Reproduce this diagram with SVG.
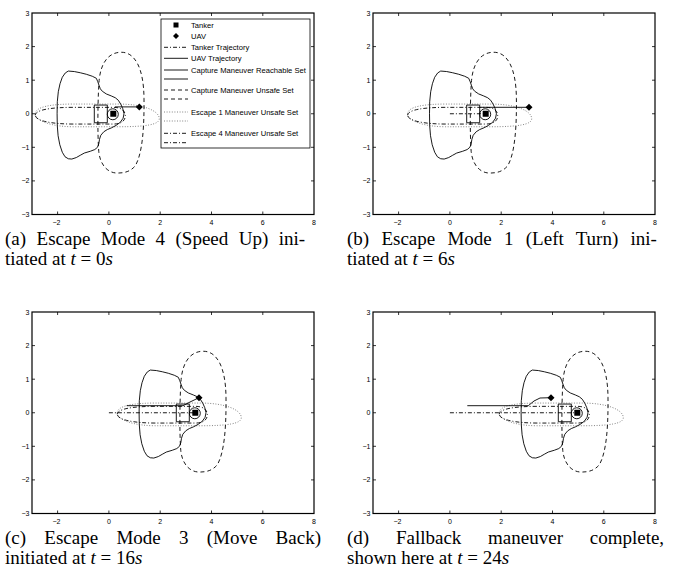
<svg xmlns="http://www.w3.org/2000/svg" width="678" height="577" viewBox="0 0 678 577">
<style>
.box{fill:none;stroke:#000;stroke-width:1.2}
.tick{fill:none;stroke:#000;stroke-width:0.8}
.tl{font-family:"Liberation Sans",Arial,sans-serif;font-size:7px;fill:#000}
.tly{text-anchor:end}
.tlx{text-anchor:middle}
.solid{fill:none;stroke:#000;stroke-width:0.9;stroke-linejoin:round}
.dash{fill:none;stroke:#000;stroke-width:0.9;stroke-dasharray:4 3}
.dot{fill:none;stroke:#777;stroke-width:0.9;stroke-dasharray:1 1.6}
.dd{fill:none;stroke:#000;stroke-width:0.9;stroke-dasharray:4 2 1 2}
.lg{font-family:"Liberation Sans",Arial,sans-serif;font-size:7.6px;fill:#000}
.cap{font-family:"Liberation Serif","Times New Roman",serif;font-size:19px;fill:#000}
.mk{fill:#000}
</style>
<defs>
<g id="axes">
<rect class="box" x="32" y="13" width="282" height="201.5"/>
<path class="tick" d="M57.6,214.5v-3M108.9,214.5v-3M160.2,214.5v-3M211.5,214.5v-3M262.8,214.5v-3M57.6,13v3M108.9,13v3M160.2,13v3M211.5,13v3M262.8,13v3M32,46.6h3M32,80.2h3M32,113.75h3M32,147.3h3M32,180.9h3M314,46.6h-3M314,80.2h-3M314,113.75h-3M314,147.3h-3M314,180.9h-3"/>
<g class="tl tly">
<text x="29.5" y="15.5">3</text>
<text x="29.5" y="49.1">2</text>
<text x="29.5" y="82.7">1</text>
<text x="29.5" y="116.2">0</text>
<text x="29.5" y="149.8">−1</text>
<text x="29.5" y="183.4">−2</text>
<text x="29.5" y="217">−3</text>
</g>
<g class="tl tlx">
<text x="56.5" y="225">−2</text>
<text x="108.9" y="225">0</text>
<text x="160.2" y="225">2</text>
<text x="211.5" y="225">4</text>
<text x="262.8" y="225">6</text>
<text x="314" y="225">8</text>
</g>
</g>
<path id="reach" class="solid" d="M-45,-42.7L-39,-42.2L-33,-41L-27,-39.5L-21,-37.5L-17,-35.5L-15.5,-32L-14.3,-28.5L-13,-25L-11,-22.5L-7,-19.8L-2,-17.8L2,-16L5,-13.5L7.5,-9.5L9.5,-5L10.7,0L9.8,4.5L7,8.5L3,11.5L-1.6,14L-6,15.8L-9.5,18L-12.5,21.5L-13.8,25.5L-14.5,30L-15.8,33.5L-18.5,35.8L-23,37.5L-29,39.3L-33,41.5L-37,43.8L-41.5,45.3L-45,45L-48.3,43L-51,38.5L-53.5,31L-55.2,22L-56,12L-56.2,0L-56,-12L-55,-22L-53.3,-30L-51,-36.5L-48,-40.8Z"/>
<path id="capU" class="dash" d="M8,-61.5C22,-61.5 30.5,-45 30.7,-15C31,15 29,40 22,52C17,58 11,59.3 4,59.3C-5,59.3 -13,52 -14.5,38C-16,20 -15.5,-20 -14,-35C-12,-52 -4,-61.5 8,-61.5Z"/>
<path id="esc1" class="dot" d="M-78,0C-78,-7 -62,-9.7 -40,-9.7L5,-9.7C30,-9.7 46,-3 46,5C46,11 32,13 5,13L-40,13C-62,13 -78,7 -78,0Z"/>
<path id="esc4" class="dd" d="M-78,1.5C-78,-4 -62,-6.4 -40,-6.4L0,-6.4C8,-6.4 12,-3 12,2C12,7 8,10.3 0,10.3L-40,10.3C-62,10.3 -78,7 -78,1.5Z"/>
<g id="core">
<rect class="solid" x="-19" y="-8.7" width="13" height="17.7"/>
<circle class="solid" cx="-0.5" cy="0.5" r="5.5"/>
<rect class="mk" x="-3" y="-3" width="6" height="6"/>
</g>
<path id="uav" class="mk" d="M0,-3.5L3.5,0L0,3.5L-3.5,0Z"/>
</defs>

<g id="plot-a">
<use href="#axes"/>
<g id="sets-a" transform="translate(113.3,113.75)">
<use href="#esc1"/><use href="#esc4"/><use href="#capU"/><use href="#reach"/><use href="#core"/>
</g>
<path class="solid" d="M115,106.9H139.3"/>
<use href="#uav" transform="translate(139.3,106.9)"/>
<g id="legend">
<rect x="161" y="19" width="149" height="129" fill="#fff" stroke="#000" stroke-width="0.8"/>
<rect class="mk" x="173.5" y="22.5" width="5" height="5"/>
<path class="mk" d="M176,33L179,36L176,39L173,36Z"/>
<path class="dd" d="M164,47.3H188"/>
<path class="solid" d="M164,58.3H188M164,70H188M164,79H188"/>
<path class="dash" d="M164,90H188M164,99H188"/>
<path class="dot" d="M164,112H188M164,121H188"/>
<path class="dd" d="M164,133.3H188M164,142.7H188"/>
<g class="lg">
<text x="191" y="27.7">Tanker</text>
<text x="191" y="38.7">UAV</text>
<text x="191" y="50">Tanker Trajectory</text>
<text x="191" y="61">UAV Trajectory</text>
<text x="191" y="72.7">Capture Maneuver Reachable Set</text>
<text x="191" y="92.7">Capture Maneuver Unsafe Set</text>
<text x="191" y="114.7">Escape 1 Maneuver Unsafe Set</text>
<text x="191" y="136">Escape 4 Maneuver Unsafe Set</text>
</g>
</g>
</g>

<g id="plot-b" transform="translate(341,0)">
<use href="#axes"/>
<path class="dd" d="M108.9,113.75H144.7"/>
<g id="sets-b" transform="translate(144.7,113.75)">
<use href="#esc1"/><use href="#esc4"/><use href="#capU"/><use href="#reach"/><use href="#core"/>
</g>
<path class="solid" d="M139.3,107.3H188"/>
<use href="#uav" transform="translate(188,107.3)"/>
</g>

<g id="plot-c" transform="translate(0,299)">
<use href="#axes"/>
<path class="dd" d="M108.9,113.75H195.3"/>
<g id="sets-c" transform="translate(195.3,113.75)">
<use href="#esc1"/><use href="#esc4"/><use href="#capU"/><use href="#reach"/><use href="#core"/>
</g>
<path class="solid" d="M126.7,106.7L183,106.7L190,103L199,98.7"/>
<use href="#uav" transform="translate(199,98.7)"/>
</g>

<g id="plot-d" transform="translate(341,299)">
<use href="#axes"/>
<path class="dd" d="M108.9,113.75H236.3"/>
<g id="sets-d" transform="translate(236.3,113.75)">
<use href="#esc1"/><use href="#esc4"/><use href="#capU"/><use href="#reach"/><use href="#core"/>
</g>
<path class="solid" d="M126.3,106.7L187.3,106.7L193,102L199,99L210,98.7"/>
<use href="#uav" transform="translate(210,98.7)"/>
</g>

<g id="captions" class="cap">
<text x="5" y="245" word-spacing="5.7">(a) Escape Mode 4 (Speed Up) ini-</text>
<text x="5" y="265">tiated at <tspan font-style="italic">t</tspan> = 0<tspan font-style="italic">s</tspan></text>
<text x="347" y="245" word-spacing="7.5">(b) Escape Mode 1 (Left Turn) ini-</text>
<text x="347" y="265">tiated at <tspan font-style="italic">t</tspan> = 6<tspan font-style="italic">s</tspan></text>
<text x="5" y="544" word-spacing="13.5">(c) Escape Mode 3 (Move Back)</text>
<text x="5" y="564">initiated at <tspan font-style="italic">t</tspan> = 16<tspan font-style="italic">s</tspan></text>
<text x="347" y="544" word-spacing="22">(d) Fallback maneuver complete,</text>
<text x="347" y="564">shown here at <tspan font-style="italic">t</tspan> = 24<tspan font-style="italic">s</tspan></text>
</g>
</svg>
